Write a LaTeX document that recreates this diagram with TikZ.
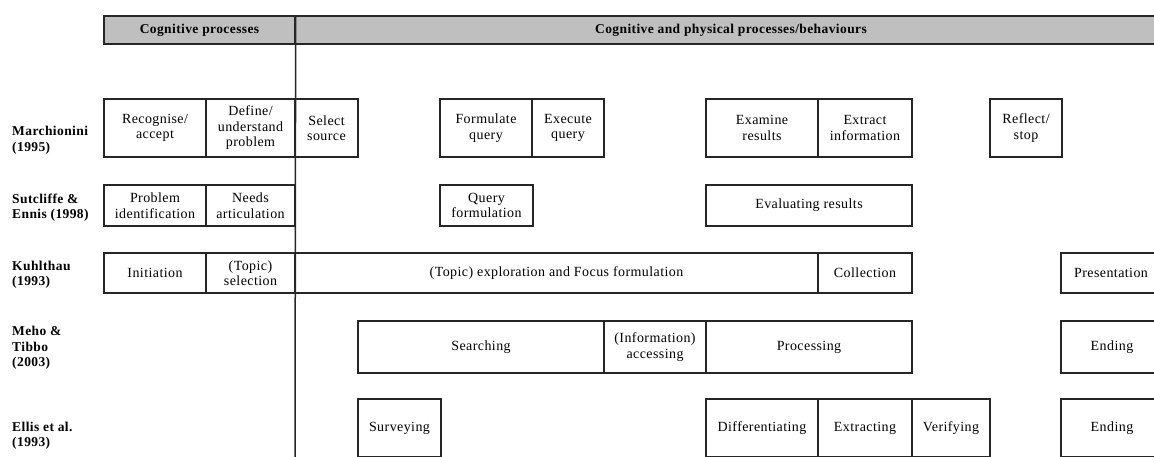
\documentclass[tikz,border=0pt]{standalone}
\usepackage{fontspec}
\setmainfont{Liberation Serif}[LetterSpace=3]
\begin{document}
\begin{tikzpicture}[x=1pt,y=-1pt,
  cell/.style={draw=black!85, line width=1.3pt, inner sep=0pt, align=center,
    font=\fontsize{14}{15.5}\selectfont},
  hdr/.style={cell, fill=black!25, font=\bfseries\fontsize{13.5}{15.5}\selectfont},
  lbl/.style={anchor=west, align=left, inner sep=0pt,
    font=\bfseries\fontsize{13.5}{15.5}\selectfont}]
\newcommand{\cellbox}[7][cell]{\node[#1, minimum width={(#5-#3)*1pt}, minimum height={(#6-#4)*1pt}] (#2) at ({(#3+#5)/2},{(#4+#6)/2}) {#7};}
\useasboundingbox (0,0) rectangle (1154,456);
\clip (0,0) rectangle (1154,456);
% header
\cellbox[hdr]{hcog}{104}{16}{295}{44}{Cognitive processes}
\cellbox[hdr]{hphys}{295}{16}{1170}{44}{}
\node[font=\bfseries\fontsize{13.5}{15.5}\selectfont] (hphystext) at (731,30) {Cognitive and physical processes/behaviours};
\coordinate (vbot) at (295,470);
\draw[draw=black!85, line width=1.5pt] (hcog.north east) -- (vbot);
% row labels
\node[lbl] (lmar) at (12,140) {Marchionini\\(1995)};
\node[lbl] (lsut) at (12,207.5) {Sutcliffe \&\\Ennis (1998)};
\node[lbl] (lkuh) at (12,274.5) {Kuhlthau\\(1993)};
\node[lbl] (lmeh) at (12,348) {Meho \&\\Tibbo\\(2003)};
\node[lbl] (lell) at (12,435.5) {Ellis et al.\\(1993)};
% row 1 Marchionini
\cellbox{m1}{104}{99}{206}{157}{Recognise/\\accept}
\cellbox{m2}{206}{99}{295}{157}{Define/\\understand\\problem}
\cellbox{m3}{295}{99}{358}{157}{Select\\source}
\cellbox{m4}{440}{99}{532}{157}{Formulate\\query}
\cellbox{m5}{532}{99}{604}{157}{Execute\\query}
\cellbox{m6}{706}{99}{818}{157}{Examine\\results}
\cellbox{m7}{818}{99}{912}{157}{Extract\\information}
\cellbox{m8}{990}{99}{1062}{157}{Reflect/\\stop}
% row 2 Sutcliffe & Ennis
\cellbox{s1}{104}{185}{206}{226}{Problem\\identification}
\cellbox{s2}{206}{185}{295}{226}{Needs\\articulation}
\cellbox{s3}{440}{185}{533}{226}{Query\\formulation}
\cellbox{s4}{706}{185}{912}{226}{Evaluating results}
% row 3 Kuhlthau
\cellbox{k1}{104}{253}{206}{293}{Initiation}
\cellbox{k2}{206}{253}{295}{293}{(Topic)\\selection}
\cellbox{k3}{295}{253}{818}{293}{(Topic) exploration and Focus formulation}
\cellbox{k4}{818}{253}{912}{293}{Collection}
\cellbox{k5}{1061}{253}{1161}{293}{Presentation}
% row 4 Meho & Tibbo
\cellbox{t1}{358}{321}{604}{373}{Searching}
\cellbox{t2}{604}{321}{706}{373}{(Information)\\accessing}
\cellbox{t3}{706}{321}{912}{373}{Processing}
\cellbox{t4}{1061}{321}{1163}{373}{Ending}
% row 5 Ellis et al.
\cellbox{e1}{358}{399}{441}{457}{Surveying}
\cellbox{e2}{706}{399}{818}{457}{Differentiating}
\cellbox{e3}{818}{399}{912}{457}{Extracting}
\cellbox{e4}{912}{399}{990}{457}{Verifying}
\cellbox{e5}{1061}{399}{1163}{457}{Ending}
\end{tikzpicture}
\end{document}
